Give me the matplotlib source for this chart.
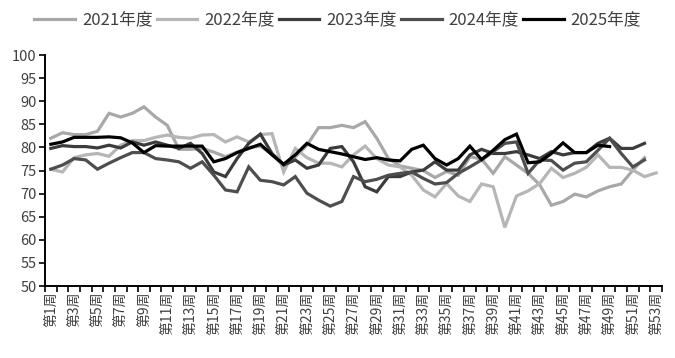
import matplotlib
matplotlib.use("Agg")
import matplotlib.pyplot as plt
from matplotlib.ticker import FixedLocator, MultipleLocator

plt.rcParams['font.family'] = ['Noto Sans CJK SC', 'DejaVu Sans']

week_labels = [f"第{i}周" for i in range(1, 54)]

series_names = ["2021年度", "2022年度", "2023年度", "2024年度", "2025年度"]

y2021 = [82.0, 83.2, 82.8, 82.8, 83.5, 87.4, 86.6, 87.4, 88.8, 86.6,
         84.8, 79.6, 79.6, 79.8, 79.0, 78.0, 79.0, 80.0, 80.3, 78.5,
         76.0, 78.0, 80.5, 84.3, 84.3, 84.8, 84.3, 85.6, 82.0, 77.6,
         76.0, 75.5, 75.0, 73.5, 74.8, 74.0, 78.0, 77.5, 74.4, 78.0,
         76.2, 74.4, 71.9, 67.5, 68.3, 69.9, 69.3, 70.6, 71.5, 72.1,
         75.1, 77.8]

y2022 = [75.3, 74.7, 77.8, 78.4, 78.7, 78.1, 80.5, 81.5, 81.5, 82.2,
         82.7, 82.2, 82.0, 82.7, 82.8, 81.2, 82.3, 81.2, 82.8, 83.0,
         74.7, 79.8, 77.8, 76.6, 76.6, 75.8, 78.4, 80.3, 77.6, 76.2,
         75.8, 74.0, 70.8, 69.3, 72.2, 69.5, 68.3, 72.1, 71.5, 62.7,
         69.5, 70.6, 72.2, 75.5, 73.5, 74.4, 75.7, 78.4, 75.7, 75.7,
         75.1, 73.7, 74.5]

y2023 = [79.8, 80.4, 80.2, 80.2, 79.9, 80.5, 79.9, 81.2, 80.5, 81.2,
         80.5, 79.8, 80.9, 78.7, 74.7, 73.7, 77.6, 80.9, 82.9, 78.7,
         76.2, 77.3, 75.5, 76.2, 79.8, 80.2, 76.9, 71.5, 70.4, 73.7,
         73.7, 74.7, 75.1, 76.9, 75.1, 75.1, 78.4, 79.6, 78.7, 78.7,
         79.1, 78.4, 77.6, 79.1, 78.4, 78.9, 78.9, 80.9, 82.0, 79.8,
         79.8, 80.9]

y2024 = [75.3, 76.2, 77.6, 77.3, 75.3, 76.6, 77.8, 78.9, 78.9, 77.6,
         77.3, 76.9, 75.5, 76.9, 74.0, 70.8, 70.4, 75.8, 72.9, 72.6,
         71.9, 73.7, 70.1, 68.6, 67.3, 68.3, 73.7, 72.6, 73.1, 74.0,
         74.4, 74.7, 73.3, 72.1, 72.4, 74.4, 75.8, 77.3, 79.1, 80.9,
         81.2, 74.4, 77.3, 77.2, 75.1, 76.6, 76.9, 79.4, 82.0, 78.7,
         75.8, 77.3]

y2025 = [80.7, 81.2, 82.2, 82.2, 82.2, 82.3, 82.1, 81.0, 78.9, 80.4,
         80.3, 80.3, 80.3, 80.3, 76.9, 77.6, 78.9, 79.8, 80.7, 78.4,
         76.4, 78.4, 80.9, 79.6, 79.1, 78.6, 78.0, 77.4, 77.8, 77.3,
         77.1, 79.6, 80.5, 77.6, 76.2, 77.6, 80.3, 77.4, 79.4, 81.7,
         82.9, 76.7, 76.9, 78.7, 81.0, 78.9, 78.9, 80.5, 80.2]

all_series = [y2021, y2022, y2023, y2024, y2025]
colors = ['#a8a8a8', '#b6b6b6', '#3c3c3c', '#4e4e4e', '#000000']

fig = plt.figure(figsize=(6.75, 3.58), dpi=100)
ax = fig.add_axes([0.0667, 0.201, 0.914, 0.645])

for name, vals, c in zip(series_names, all_series, colors):
    xs = list(range(1, len(vals) + 1))
    ax.plot(xs, vals, color=c, lw=2.3, label=name, solid_joinstyle='miter')

ax.set_xlim(0.5, 53.5)
ax.set_ylim(50, 100)
ax.yaxis.set_major_locator(MultipleLocator(5))

major = list(range(1, 54, 2))
ax.xaxis.set_major_locator(FixedLocator(major))
ax.set_xticklabels([week_labels[i - 1] for i in major], rotation=90,
                   fontsize=10, color='#404040')
ax.xaxis.set_minor_locator(FixedLocator([i + 0.5 for i in range(0, 54)]))
ax.tick_params(axis='x', which='major', length=0, pad=4)
ax.tick_params(axis='x', which='minor', length=4, width=1.2, color='black')
ax.tick_params(axis='y', which='major', length=4, width=1.2, color='black',
               labelsize=10.5, labelcolor='#404040', pad=2)

for s in ['top', 'right']:
    ax.spines[s].set_visible(False)
for s in ['left', 'bottom']:
    ax.spines[s].set_linewidth(1.4)
    ax.spines[s].set_color('black')

leg = fig.legend(loc='upper center', bbox_to_anchor=(0.5, 1.01), ncol=5,
                 frameon=False, fontsize=12, handlelength=2.45,
                 handletextpad=0.4, columnspacing=0.25)
for t in leg.get_texts():
    t.set_color('#404040')

fig.savefig('out.png', dpi=100)
